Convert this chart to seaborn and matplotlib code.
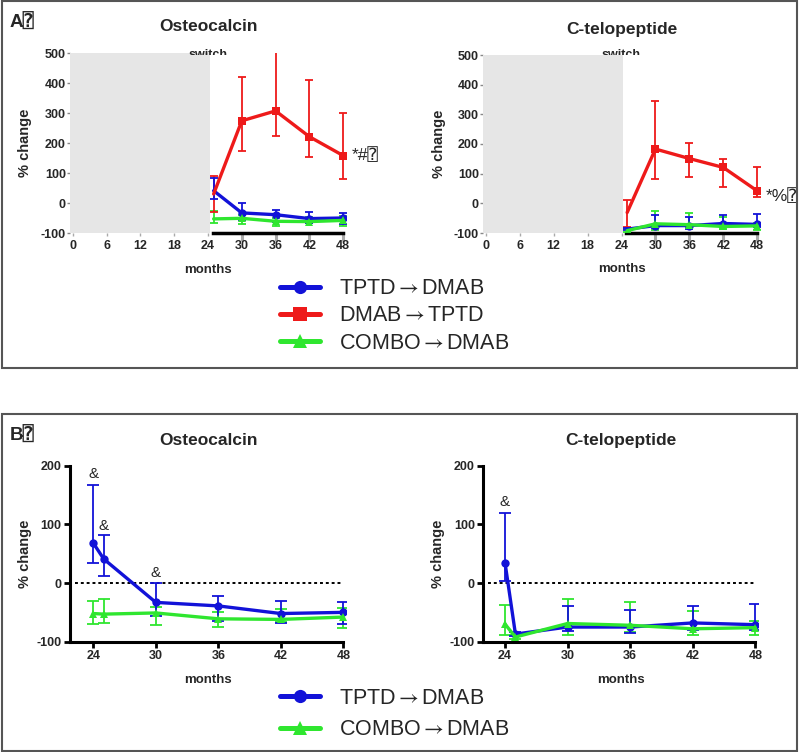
import numpy as np
import pandas as pd
import matplotlib
matplotlib.use("Agg")
import matplotlib.pyplot as plt
from matplotlib.patches import Rectangle
from matplotlib.transforms import Bbox, TransformedBbox
import seaborn as sns

sns.set_theme(style="white")
plt.rcParams["font.family"] = ["Liberation Sans", "DejaVu Sans", "DejaVu Sans Mono"]
plt.rcParams["mathtext.fontset"] = "stix"

# ---------------- data ----------------
groups = ["TPTD\u2192DMAB", "DMAB\u2192TPTD", "COMBO\u2192DMAB"]
months = [24, 25, 30, 36, 42, 48]
months_dmab = [25, 30, 36, 42, 48]

tptd_oc = [68, 41, -33, -39, -52, -50]
tptd_oc_lo = [35, 12, -56, -64, -68, -70]
tptd_oc_hi = [167, 82, 0, -22, -31, -33]
combo_oc = [-52, -53, -51, -61, -62, -58]
combo_oc_lo = [-70, -68, -71, -75, -67, -77]
combo_oc_hi = [-31, -27, -41, -50, -45, -43]
dmab_oc = [30, 274, 307, 221, 158]
dmab_oc_lo = [-30, 174, 223, 152, 79]
dmab_oc_hi = [90, 420, 520, 410, 301]

tptd_ctx = [35, -87, -75, -75, -68, -71]
tptd_ctx_lo = [3, -90, -82, -86, -80, -80]
tptd_ctx_hi = [120, -83, -39, -46, -39, -36]
combo_ctx = [-70, -92, -69, -72, -78, -76]
combo_ctx_lo = [-88, -95, -89, -84, -88, -89]
combo_ctx_hi = [-37, -88, -27, -33, -47, -65]
dmab_ctx = [-31, 183, 151, 121, 42]
dmab_ctx_lo = [-79, 81, 88, 56, 20]
dmab_ctx_hi = [11, 345, 202, 148, 121]

titles = ["Osteocalcin", "C-telopeptide"]
xticks_a = [0, 6, 12, 18, 24, 30, 36, 42, 48]
xticks_b = [24, 30, 36, 42, 48]
yticks_a = [-100, 0, 100, 200, 300, 400, 500]
yticks_b = [-100, 0, 100, 200]
sig_a = ["*#\u2370", "*%\u2370"]
amp_oc = [(24, 186), (25, 98), (30, 17)]
amp_ctx = [(24, 138)]

colors = {groups[0]: "#1212d8", groups[1]: "#ee1a1a", groups[2]: "#2fe62f"}
markers = {groups[0]: "o", groups[1]: "s", groups[2]: "^"}


def frame(x, y, lo, hi, g):
    return pd.DataFrame({"month": x, "value": y, "lo": lo, "hi": hi, "group": g})


oc_df = pd.concat([
    frame(months, tptd_oc, tptd_oc_lo, tptd_oc_hi, groups[0]),
    frame(months_dmab, dmab_oc, dmab_oc_lo, dmab_oc_hi, groups[1]),
    frame(months, combo_oc, combo_oc_lo, combo_oc_hi, groups[2]),
], ignore_index=True)
ctx_df = pd.concat([
    frame(months, tptd_ctx, tptd_ctx_lo, tptd_ctx_hi, groups[0]),
    frame(months_dmab, dmab_ctx, dmab_ctx_lo, dmab_ctx_hi, groups[1]),
    frame(months, combo_ctx, combo_ctx_lo, combo_ctx_hi, groups[2]),
], ignore_index=True)

W, H = 800, 752
fig = plt.figure(figsize=(W / 100, H / 100), dpi=100)


def add_ax(l, r, t, b):
    return fig.add_axes([l / W, 1 - b / H, (r - l) / W, (b - t) / H])


def draw(ax, df, order, capsize, lw, ms, skip_first_marker=False):
    for g in order[::-1]:
        d = df[df.group == g]
        ax.errorbar(d.month, d.value, yerr=[d.value - d.lo, d.hi - d.value],
                    fmt="none", ecolor=colors[g], elinewidth=1.3,
                    capsize=capsize, capthick=1.3, zorder=3)
    before = list(ax.lines)
    sns.lineplot(data=df[df.group.isin(order)], x="month", y="value",
                 hue="group", hue_order=order, style="group",
                 style_order=order, palette=colors, markers=markers,
                 dashes=False, linewidth=lw, markersize=ms,
                 markeredgewidth=0, ax=ax, zorder=4, legend=True)
    if skip_first_marker:
        for ln in ax.lines:
            if ln not in before:
                ln.set_markevery(slice(1, None))
    h, l = ax.get_legend_handles_labels()
    ax.get_legend().remove()
    return h, l


def legend_label(s):
    return s.replace("\u2192", r"$\rightarrow$")


def set_ylabel(ax, x_px, ax_left_px, ax_w_px):
    ax.set_ylabel("% change", fontsize=10.5, fontweight="bold")
    ax.yaxis.set_label_coords((x_px - ax_left_px) / ax_w_px, 0.5)
    ax.yaxis.label.set_verticalalignment("center")


tick_font = dict(fontsize=9, fontweight="bold")

# ---------------- panel A ----------------
axA_px = [(70, 346, 53, 233), (483, 760, 55, 233)]
ylab_a = [25, 439]
axA = [add_ax(*p) for p in axA_px]
dfs = [oc_df, ctx_df]
handlesA = None
for i, ax in enumerate(axA):
    df = dfs[i][dfs[i].month >= 25]
    h, l = draw(ax, df, groups, 3, 2.4, 6, skip_first_marker=True)
    if handlesA is None:
        handlesA = (h, l)
    ax.set_xlim(-0.5, 48.5)
    ax.set_ylim(-100, 500)
    ax.axvspan(-0.45, 24.3, color="#e6e6e6", lw=0, zorder=6)
    for s in ["top", "right", "left"]:
        ax.spines[s].set_visible(False)
    ax.spines["bottom"].set_bounds(24.8, 48)
    ax.spines["bottom"].set_linewidth(2.5)
    ax.spines["bottom"].set_color("black")
    ax.set_xticks(xticks_a)
    ax.set_xticklabels([str(v) for v in xticks_a], **tick_font)
    ax.set_yticks(yticks_a)
    ax.set_yticklabels([str(v) for v in yticks_a], **tick_font)
    ax.tick_params(axis="y", length=2, width=1, color="#888", pad=1, left=True)
    ax.tick_params(axis="x", length=2, width=1, color="#aaa", pad=3, bottom=True)
    for t, v in zip(ax.xaxis.get_major_ticks(), xticks_a):
        if v >= 30:
            t.tick1line.set_markersize(6)
            t.tick1line.set_markeredgewidth(2.2)
            t.tick1line.set_color("black")
    ax.set_xlabel("")
    l_px, r_px = axA_px[i][0], axA_px[i][1]
    set_ylabel(ax, ylab_a[i], l_px, r_px - l_px)
    ax.text(0.5, 1.145, titles[i], transform=ax.transAxes, ha="center",
            va="center", fontsize=12.5, fontweight="bold")
    ax.text(0.5, -0.205, "months", transform=ax.transAxes, ha="center",
            va="center", fontsize=9.5, fontweight="bold")
    d = dfs[i][(dfs[i].group == groups[1]) & (dfs[i].month == 48)]
    ax.annotate(sig_a[i], (48, float(d.value.iloc[0])), xytext=(6, -4 if i else 0),
                textcoords="offset points", va="center", ha="left", fontsize=12.5)
    # "switch" label, clipped at its lower part
    x24 = ax.transData.transform((24, 0))[0] / W
    t = fig.text(x24, 1 - 57.5 / H, "switch", ha="center", va="baseline",
                 fontsize=9, fontweight="bold")
    t.set_clip_box(TransformedBbox(Bbox([[0, 1 - 55 / H], [1, 1]]), fig.transFigure))
    t.set_clip_on(True)

fig.text(10 / W, 1 - 28 / H, "A\u2370", fontsize=13.5, fontweight="bold",
         ha="left", va="baseline")
legA = fig.legend(handlesA[0], [legend_label(s) for s in handlesA[1]],
                  loc="center left",
                  bbox_to_anchor=(280 / W, 1 - 316 / H), borderpad=0,
                  borderaxespad=0, handlelength=1.85, handletextpad=0.9,
                  labelspacing=0.3, frameon=False, fontsize=15.5)
for hdl in legA.legend_handles:
    hdl.set_linewidth(3.6)
    hdl.set_markersize(9.5)

# ---------------- panel B ----------------
axB_px = [(70, 346.4, 465.7, 641.7), (483.3, 758, 465.7, 641.7)]
ylab_b = [25.5, 438]
axB = [add_ax(*p) for p in axB_px]
xlims_b = [(21.76, 48.3), (21.92, 48.26)]
amps = [amp_oc, amp_ctx]
orderB = [groups[0], groups[2]]
handlesB = None
for i, ax in enumerate(axB):
    h, l = draw(ax, dfs[i], orderB, 4.5, 2.4, 6)
    if handlesB is None:
        handlesB = (h, l)
    ax.set_xlim(*xlims_b[i])
    ax.set_ylim(-100, 200)
    ax.hlines(0, xlims_b[i][0] + 0.45, 48, colors="black", linestyles=(0, (1.5, 1.5)),
              lw=1.4, zorder=2)
    for s in ["top", "right"]:
        ax.spines[s].set_visible(False)
    for s in ["left", "bottom"]:
        ax.spines[s].set_linewidth(2.2)
        ax.spines[s].set_color("black")
    ax.spines["bottom"].set_bounds(xlims_b[i][0], 48)
    ax.set_xticks(xticks_b)
    ax.set_xticklabels([str(v) for v in xticks_b], **tick_font)
    ax.set_yticks(yticks_b)
    ax.set_yticklabels([str(v) for v in yticks_b], **tick_font)
    ax.tick_params(length=4, width=2, color="black", pad=2, left=True, bottom=True)
    ax.set_xlabel("")
    l_px, r_px = axB_px[i][0], axB_px[i][1]
    set_ylabel(ax, ylab_b[i], l_px, r_px - l_px)
    ax.text(0.5, 1.146, titles[i], transform=ax.transAxes, ha="center",
            va="center", fontsize=12.5, fontweight="bold")
    ax.text(0.5, -0.218, "months", transform=ax.transAxes, ha="center",
            va="center", fontsize=9.5, fontweight="bold")
    for (xx, yy) in amps[i]:
        ax.text(xx, yy, "&", ha="center", va="center", fontsize=11)

fig.text(10 / W, 1 - 441 / H, "B\u2370", fontsize=13.5, fontweight="bold",
         ha="left", va="baseline")
legB = fig.legend(handlesB[0], [legend_label(s) for s in handlesB[1]],
                  loc="center left",
                  bbox_to_anchor=(280 / W, 1 - 714 / H), borderpad=0,
                  borderaxespad=0, handlelength=1.85, handletextpad=0.9,
                  labelspacing=0.5, frameon=False, fontsize=15.5)
for hdl in legB.legend_handles:
    hdl.set_linewidth(3.6)
    hdl.set_markersize(9.5)

# panel frames
fig.add_artist(Rectangle((2 / W, 1 - 368 / H), 795 / W, 367 / H,
                         transform=fig.transFigure, fill=False, ec="#555", lw=1.5))
fig.add_artist(Rectangle((1.5 / W, 1 - 751 / H), 795.5 / W, 337 / H,
                         transform=fig.transFigure, fill=False, ec="#555", lw=1.5))

fig.savefig("out.png", dpi=100)
